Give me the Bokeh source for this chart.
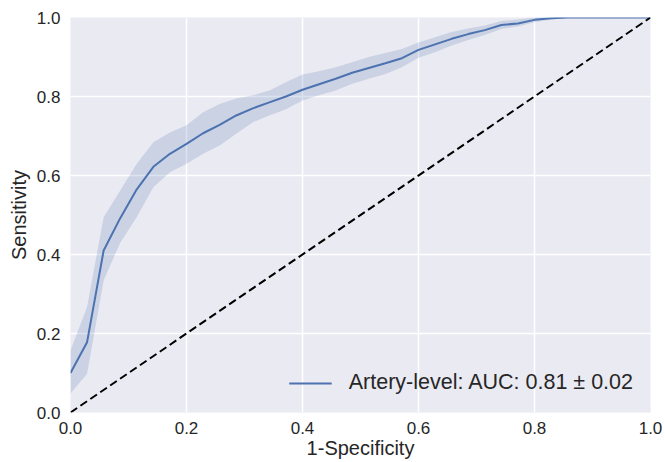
from bokeh.plotting import figure
from bokeh.models import Range1d, FixedTicker, PrintfTickFormatter, Legend, LegendItem, ColumnDataSource
from bokeh.embed import file_html
from bokeh.resources import INLINE

fpr = [i / 35 for i in range(36)]
tpr_mean = [0.100, 0.178, 0.410, 0.492, 0.565, 0.622, 0.655, 0.680, 0.707, 0.728,
            0.752, 0.770, 0.785, 0.800, 0.817, 0.831, 0.845, 0.860, 0.872, 0.884,
            0.897, 0.918, 0.932, 0.946, 0.958, 0.968, 0.981, 0.985, 0.994, 0.998,
            1.000, 1.000, 1.000, 1.000, 1.000, 1.000]
tpr_upper = [0.157, 0.267, 0.494, 0.562, 0.630, 0.684, 0.709, 0.727, 0.760, 0.781,
             0.795, 0.803, 0.815, 0.836, 0.856, 0.864, 0.874, 0.887, 0.900, 0.910,
             0.920, 0.937, 0.950, 0.963, 0.972, 0.980, 0.991, 0.995, 1.000, 1.000,
             1.000, 1.000, 1.000, 1.000, 1.000, 1.000]
tpr_lower = [0.048, 0.098, 0.334, 0.430, 0.495, 0.570, 0.608, 0.630, 0.655, 0.676,
             0.706, 0.735, 0.752, 0.768, 0.790, 0.803, 0.815, 0.832, 0.845, 0.857,
             0.874, 0.898, 0.912, 0.929, 0.943, 0.956, 0.971, 0.977, 0.988, 0.995,
             1.000, 1.000, 1.000, 1.000, 1.000, 1.000]
chance_x = [0.0, 1.0]
chance_y = [0.0, 1.0]
ticks = [0.0, 0.2, 0.4, 0.6, 0.8, 1.0]
legend_label = "Artery-level: AUC: 0.81 \u00b1 0.02"

FONT = "Liberation Sans"
TXT = "#262626"
BLUE = "#4C72B0"

p = figure(width=665, height=462, output_backend="svg", toolbar_location=None,
           x_range=Range1d(0, 1), y_range=Range1d(0, 1),
           min_border_left=70, min_border_right=15, min_border_top=17, min_border_bottom=50,
           background_fill_color="#EAEAF2", border_fill_color="white")
p.outline_line_color = None

src = ColumnDataSource(dict(x=fpr, m=tpr_mean, lo=tpr_lower, hi=tpr_upper))
p.varea(x="x", y1="lo", y2="hi", source=src, fill_color=BLUE, fill_alpha=0.2)
r = p.line(x="x", y="m", source=src, line_color=BLUE, line_width=2)
p.line(chance_x, chance_y, line_color="black", line_width=2, line_dash="8 4")

for ax in (p.xaxis, p.yaxis):
    ax.ticker = FixedTicker(ticks=ticks)
    ax.formatter = PrintfTickFormatter(format="%.1f")
    ax.axis_line_color = None
    ax.major_tick_line_color = None
    ax.minor_tick_line_color = None
    ax.major_tick_out = 0
    ax.major_tick_in = 0
    ax.major_label_text_font = FONT
    ax.major_label_text_font_size = "17px"
    ax.major_label_text_color = TXT
    ax.axis_label_text_font = FONT
    ax.axis_label_text_font_size = "20px"
    ax.axis_label_text_font_style = "normal"
    ax.axis_label_text_color = TXT
p.xaxis.axis_label = "1-Specificity"
p.yaxis.axis_label = "Sensitivity"
p.xaxis.major_label_standoff = 9
p.yaxis.major_label_standoff = 10
p.xaxis.axis_label_standoff = 0
p.yaxis.axis_label_standoff = 4

for g in (p.xgrid, p.ygrid):
    g.ticker = FixedTicker(ticks=ticks)
    g.grid_line_color = "white"
    g.grid_line_width = 1.5

legend = Legend(items=[LegendItem(label=legend_label, renderers=[r])],
                location="bottom_right", border_line_color=None,
                background_fill_alpha=0, label_text_font=FONT,
                label_text_font_size="21.5px", label_text_color=TXT,
                glyph_width=43, label_standoff=17, margin=17, padding=6,
                glyph_height=24, label_height=24)
p.add_layout(legend)

open("out.html", "w").write(file_html(p, INLINE))
